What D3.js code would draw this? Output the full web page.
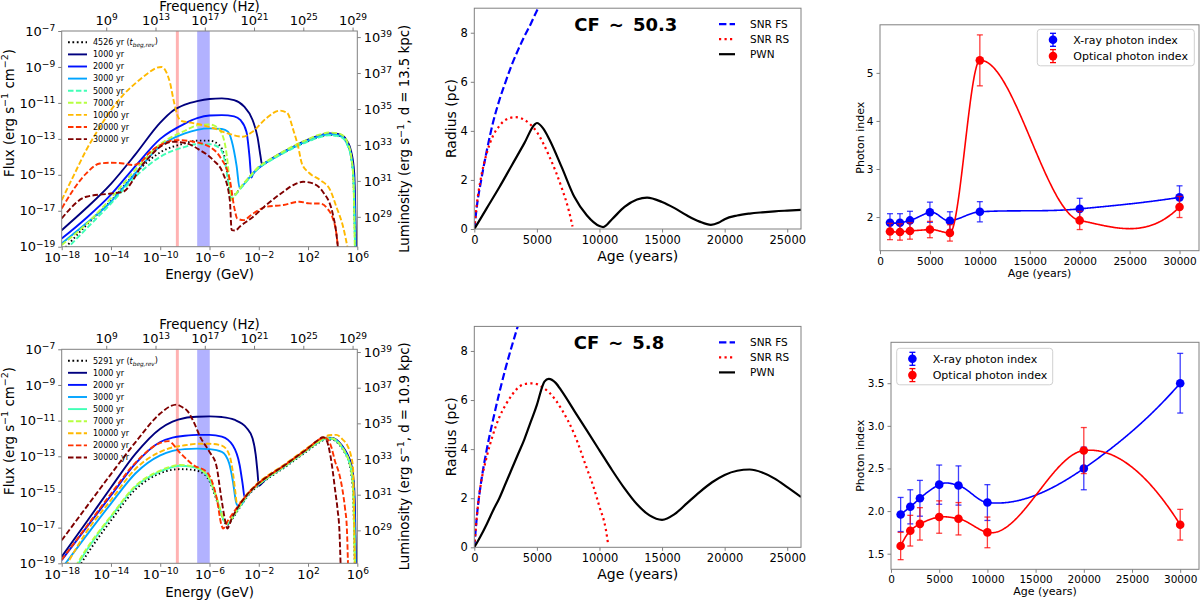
<!DOCTYPE html>
<html><head><meta charset="utf-8">
<script src="https://cdn.jsdelivr.net/npm/d3@7"></script>
<style>body{margin:0;background:#fff} svg{font-family:"DejaVu Sans",sans-serif}</style>
</head><body><svg id="c" width="1200" height="600"></svg>
<script>
// ---------------- DATA ----------------
// SED curves: [log10 E(GeV), log10 Flux]
const sedTop_4526=[[-17.9,-19.2],[-16,-17.8],[-14,-16.45],[-12,-14.9],[-10,-13.75],[-8,-13.25],[-7,-13.1],[-6,-13.1],[-5.2,-13.35],[-4.8,-13.95],[-4.5,-15.1],[-4.3,-16.1],[-4.0,-16.1],[-3.5,-15.74],[-3.0,-15.33],[-2.5,-14.93],[-2.0,-14.6],[-1.5,-14.35],[-1.0,-14.15],[0,-13.77],[1,-13.42],[2,-13.12],[3,-12.87],[3.7,-12.77],[4.3,-12.8],[4.8,-12.92],[5.2,-13.32],[5.5,-14.02],[5.68,-15.2],[5.83,-19.2]];
const sedTop_1000=[[-18,-18.08],[-16,-16.85],[-14,-15.5],[-12,-13.85],[-10,-12.1],[-9,-11.45],[-8,-11.1],[-7,-10.9],[-6,-10.78],[-5,-10.75],[-4,-10.85],[-3.2,-11.2],[-2.5,-11.95],[-2.1,-12.9],[-1.85,-14.0],[-1.75,-14.4],[-1.5,-14.35],[-1.0,-14.12],[0,-13.72],[1,-13.37],[2,-13.05],[3,-12.8],[3.7,-12.7],[4.3,-12.72],[4.8,-12.82],[5.2,-13.15],[5.5,-13.7],[5.75,-14.9],[5.9,-19.2]];
const sedTop_2000=[[-18,-18.55],[-16,-17.4],[-14,-16.1],[-12,-14.5],[-10,-13.0],[-8,-12.15],[-7,-11.85],[-6,-11.7],[-5,-11.68],[-4,-11.75],[-3.5,-11.95],[-3.0,-12.6],[-2.75,-14.0],[-2.6,-15.15],[-2.5,-15.0],[-2.0,-14.62],[-1.5,-14.37],[-1.0,-14.15],[0,-13.75],[1,-13.4],[2,-13.08],[3,-12.82],[3.7,-12.72],[4.3,-12.75],[4.8,-12.87],[5.2,-13.25],[5.5,-13.9],[5.72,-15.2],[5.87,-19.2]];
const sedTop_3000=[[-18,-18.82],[-16,-17.7],[-14,-16.5],[-12,-14.9],[-10,-13.4],[-8,-12.7],[-7,-12.5],[-6,-12.42],[-5,-12.45],[-4.5,-12.6],[-4.2,-13.1],[-3.8,-14.5],[-3.55,-15.75],[-3.3,-15.6],[-3.0,-15.35],[-2.5,-14.95],[-2.0,-14.6],[-1.5,-14.35],[-1.0,-14.15],[0,-13.75],[1,-13.4],[2,-13.1],[3,-12.85],[3.7,-12.75],[4.3,-12.78],[4.8,-12.9],[5.2,-13.3],[5.5,-14.0],[5.7,-15.2],[5.85,-19.2]];
const sedTop_5000=[[-17.7,-19.2],[-16,-18.0],[-14,-16.6],[-12,-15.1],[-10,-14.0],[-8,-13.45],[-7,-13.3],[-6,-13.3],[-5.2,-13.5],[-4.8,-14.1],[-4.5,-15.3],[-4.25,-16.3],[-4.0,-16.2],[-3.5,-15.78],[-3.0,-15.38],[-2.5,-14.98],[-2.0,-14.63],[-1.5,-14.38],[-1.0,-14.18],[0,-13.8],[1,-13.45],[2,-13.15],[3,-12.9],[3.7,-12.8],[4.3,-12.83],[4.8,-12.95],[5.2,-13.35],[5.5,-14.05],[5.68,-15.2],[5.82,-19.2]];
const sedTop_7000=[[-18,-18.9],[-16,-17.75],[-14,-16.3],[-12,-14.7],[-10,-13.3],[-8,-12.55],[-7,-12.25],[-6,-12.2],[-5.5,-12.3],[-5,-12.7],[-4.6,-13.9],[-4.35,-15.5],[-4.2,-16.4],[-4.0,-16.2],[-3.5,-15.72],[-3.0,-15.3],[-2.5,-14.9],[-2.0,-14.55],[-1.5,-14.3],[-1.0,-14.1],[0,-13.7],[1,-13.33],[2,-13.02],[3,-12.75],[3.7,-12.65],[4.3,-12.68],[4.8,-12.8],[5.2,-13.2],[5.5,-13.95],[5.68,-15.2],[5.8,-19.2]];
const sedTop_10000=[[-18,-16.41],[-17,-15.0],[-16,-13.62],[-15,-12.45],[-14,-11.4],[-13,-10.55],[-12,-9.9],[-11,-9.35],[-10.3,-9.05],[-9.9,-9.0],[-9.5,-9.3],[-9.2,-9.9],[-8.9,-10.9],[-8.6,-11.7],[-8.3,-12.0],[-7.5,-12.1],[-6.5,-12.25],[-5.5,-12.45],[-4.5,-12.7],[-3.3,-12.88],[-2.5,-12.6],[-1.4,-11.86],[-0.3,-11.43],[0.3,-11.55],[0.8,-12.5],[1.2,-13.44],[1.5,-14.37],[2.1,-14.9],[3.0,-15.3],[3.8,-15.85],[4.3,-16.78],[4.85,-17.9],[5.25,-19.2]];
const sedTop_20000=[[-18,-16.87],[-16,-14.92],[-14.9,-14.37],[-14,-14.33],[-13,-14.37],[-12.2,-14.46],[-11.6,-14.3],[-10.8,-13.72],[-10,-13.35],[-8.7,-13.07],[-7.3,-13.16],[-6,-13.44],[-5.15,-14.0],[-4.35,-15.29],[-3.95,-16.96],[-3.75,-17.43],[-3.25,-17.52],[-2.45,-17.15],[-1.4,-16.78],[0,-16.68],[1.3,-16.5],[2.1,-16.59],[3.0,-16.6],[3.6,-16.9],[4.0,-17.4],[4.3,-18.26],[4.45,-19.2]];
const sedTop_30000=[[-18,-17.43],[-16,-16.22],[-14,-16.04],[-13,-15.94],[-12.2,-15.29],[-11.65,-14.64],[-10.85,-13.99],[-10,-13.44],[-8.95,-13.16],[-7.85,-13.25],[-6.8,-13.62],[-5.7,-14.18],[-4.9,-14.92],[-4.35,-16.41],[-4.2,-18.08],[-3.9,-18.1],[-3.55,-17.89],[-2.45,-17.33],[-1.4,-16.68],[0,-15.94],[0.8,-15.57],[1.6,-15.39],[2.4,-15.48],[3.2,-15.94],[4.0,-17.15],[4.3,-18.26],[4.45,-19.2]];

const sedBot_5291=[[-16.6,-19.2],[-16,-18.55],[-14,-16.6],[-12,-14.85],[-10,-13.95],[-9,-13.75],[-8.4,-13.72],[-7.5,-13.75],[-6.8,-13.85],[-6,-14.4],[-5.4,-15.5],[-4.9,-16.5],[-4.6,-16.85],[-4,-16.35],[-3.5,-15.82],[-3,-15.32],[-2.5,-14.92],[-2.0,-14.62],[-1.5,-14.37],[-1,-14.12],[0,-13.67],[1,-13.17],[2,-12.67],[2.8,-12.27],[3.5,-12.05],[4.0,-12.07],[4.5,-12.32],[5.0,-12.82],[5.3,-13.27],[5.5,-13.95],[5.65,-15.0],[5.8,-19.2]];
const sedBot_1000=[[-18,-18.63],[-16,-16.7],[-14,-14.75],[-12,-12.85],[-10,-11.45],[-9,-11.05],[-8,-10.85],[-7,-10.78],[-6,-10.76],[-5,-10.8],[-4,-10.95],[-3,-11.4],[-2.5,-12.0],[-2.25,-12.9],[-2.1,-13.9],[-2.0,-14.65],[-1.5,-14.33],[-1,-14.03],[0,-13.58],[1,-13.08],[2,-12.58],[2.8,-12.18],[3.5,-11.95],[4.0,-11.97],[4.5,-12.2],[5.0,-12.65],[5.3,-13.05],[5.55,-13.6],[5.75,-14.8],[5.9,-19.2]];
const sedBot_2000=[[-18,-18.82],[-16,-17.0],[-14,-15.2],[-12,-13.4],[-10,-12.2],[-9,-11.95],[-8,-11.85],[-7,-11.8],[-6,-11.8],[-5,-11.9],[-4.1,-12.4],[-3.55,-13.5],[-3.3,-14.6],[-3.15,-15.3],[-3.0,-15.25],[-2.5,-14.85],[-2.0,-14.55],[-1.5,-14.3],[-1,-14.05],[0,-13.6],[1,-13.1],[2,-12.6],[2.8,-12.2],[3.5,-11.97],[4.0,-11.99],[4.5,-12.22],[5.0,-12.7],[5.3,-13.12],[5.55,-13.8],[5.72,-14.9],[5.88,-19.2]];
const sedBot_3000=[[-17.9,-19.2],[-16,-17.45],[-14,-15.65],[-12,-13.95],[-10,-12.95],[-9,-12.7],[-8,-12.6],[-7,-12.57],[-6,-12.6],[-5,-12.75],[-4.4,-13.4],[-4.1,-14.4],[-3.85,-15.55],[-3.75,-15.75],[-3.5,-15.75],[-3,-15.25],[-2.5,-14.85],[-2.0,-14.55],[-1.5,-14.3],[-1,-14.05],[0,-13.6],[1,-13.1],[2,-12.6],[2.8,-12.2],[3.5,-11.98],[4.0,-12.0],[4.5,-12.25],[5.0,-12.75],[5.3,-13.2],[5.55,-13.9],[5.7,-15.0],[5.85,-19.2]];
const sedBot_5000=[[-16.8,-19.2],[-16,-18.3],[-14,-16.4],[-12,-14.7],[-10,-13.85],[-9,-13.6],[-8.4,-13.53],[-7.5,-13.58],[-6.8,-13.72],[-6,-14.3],[-5.4,-15.4],[-4.9,-16.5],[-4.55,-16.8],[-4,-16.3],[-3.5,-15.77],[-3,-15.27],[-2.5,-14.87],[-2.0,-14.57],[-1.5,-14.32],[-1,-14.07],[0,-13.62],[1,-13.12],[2,-12.62],[2.8,-12.22],[3.5,-12.0],[4.0,-12.02],[4.5,-12.27],[5.0,-12.77],[5.3,-13.22],[5.55,-13.95],[5.68,-15.0],[5.82,-19.2]];
const sedBot_7000=[[-16.9,-19.2],[-16,-18.2],[-14,-16.35],[-12,-14.65],[-10,-13.8],[-9,-13.55],[-8.4,-13.48],[-7.5,-13.55],[-6.8,-13.7],[-6,-14.25],[-5.4,-15.35],[-4.9,-16.45],[-4.55,-16.75],[-4,-16.27],[-3.5,-15.75],[-3,-15.25],[-2.5,-14.85],[-2.0,-14.55],[-1.5,-14.3],[-1,-14.05],[0,-13.6],[1,-13.1],[2,-12.6],[2.8,-12.2],[3.5,-11.98],[4.0,-12.0],[4.5,-12.25],[5.0,-12.75],[5.3,-13.2],[5.55,-13.95],[5.66,-15.0],[5.8,-19.2]];
const sedBot_10000=[[-17.7,-19.2],[-16,-17.25],[-14,-15.45],[-12,-13.7],[-10,-12.75],[-9,-12.5],[-8,-12.38],[-7,-12.3],[-6,-12.3],[-5,-12.4],[-4.4,-12.9],[-4.1,-13.9],[-3.9,-15.0],[-3.8,-15.55],[-3.6,-15.6],[-3,-15.15],[-2,-14.45],[-1,-13.95],[0,-13.5],[1,-13.0],[2,-12.5],[3,-12.05],[3.7,-11.82],[4.3,-11.8],[4.8,-12.05],[5.2,-12.4],[5.5,-13.0],[5.65,-13.6],[5.8,-19.2]];
const sedBot_20000=[[-18,-18.8],[-16,-16.95],[-14,-15.1],[-12,-13.35],[-10,-12.25],[-9.35,-12.15],[-8.4,-12.8],[-7.3,-13.5],[-6.2,-13.9],[-5.8,-14.4],[-5.4,-15.4],[-5.05,-16.8],[-4.9,-17.05],[-4.5,-16.6],[-4,-16.1],[-3,-15.2],[-2,-14.5],[-1,-14.0],[0,-13.55],[1,-13.05],[2,-12.55],[2.8,-12.1],[3.3,-11.95],[3.6,-12.05],[3.9,-12.5],[4.2,-13.3],[4.5,-13.9],[4.8,-14.9],[5.0,-15.9],[5.15,-17.0],[5.25,-19.2]];
const sedBot_30000=[[-18,-17.71],[-16,-15.85],[-14,-14.0],[-12,-12.2],[-10,-10.6],[-9.2,-10.2],[-8.7,-10.1],[-8.2,-10.25],[-7.8,-10.45],[-7.2,-11.2],[-6.8,-11.85],[-6,-12.75],[-5.45,-13.5],[-5.05,-15.3],[-4.7,-16.7],[-4.55,-17.05],[-4.2,-16.5],[-3,-15.2],[-2,-14.5],[-1,-14.0],[0,-13.55],[1,-13.05],[2,-12.55],[2.8,-12.1],[3.2,-11.93],[3.5,-12.1],[3.8,-12.9],[4.0,-13.8],[4.2,-14.9],[4.4,-16.0],[4.55,-17.2],[4.65,-19.2]];

const sedAges=["1000 yr","2000 yr","3000 yr","5000 yr","7000 yr","10000 yr","20000 yr","30000 yr"];
const sedColors=["#00007f","#0012ff","#00a4ff","#41ffb6","#b6ff41","#ffb900","#ff3200","#7f0000"];
const bandOptical=[1.86e-9,3.24e-9];   // GeV
const bandXray=[1.0e-7,1.05e-6];      // GeV
const energyTicks=[1e-18,1e-14,1e-10,1e-6,1e-2,1e2,1e6];
const fluxTicks=[1e-19,1e-17,1e-15,1e-13,1e-11,1e-9,1e-7];
const freqTicks=[1e9,1e13,1e17,1e21,1e25,1e29];
const lumTicks=[1e29,1e31,1e33,1e35,1e37,1e39];

// Radius evolution: [age (yr), radius (pc)]
const fsTop=[[0,0],[250,1.1],[500,1.85],[1000,3.2],[1500,4.35],[2000,5.25],[2500,6.0],[3000,6.7],[3500,7.3],[4000,7.85],[4500,8.35],[5000,8.9],[5100,9.0]];
const rsTop=[[0,0],[200,1.0],[500,2.0],[1000,3.1],[1500,3.8],[2000,4.2],[2500,4.45],[3250,4.56],[4000,4.45],[4500,4.25],[5000,3.95],[5500,3.5],[6000,2.95],[6500,2.35],[7000,1.65],[7500,0.85],[7850,0.1]];
const pwnTop=[[0,0],[1000,0.85],[2000,1.7],[3000,2.6],[4000,3.5],[4800,4.25],[5000,4.32],[5500,4.1],[6000,3.65],[7000,2.5],[8000,1.3],[9000,0.55],[10000,0.12],[10300,0.08],[11000,0.4],[12000,0.9],[13000,1.2],[13800,1.28],[15000,1.1],[16000,0.85],[17000,0.55],[18000,0.3],[18900,0.17],[19500,0.25],[20000,0.4],[21000,0.55],[22000,0.63],[23000,0.68],[24000,0.72],[25000,0.75],[26100,0.78]];
const fsBot=[[0,0],[250,1.5],[500,2.5],[1000,4.0],[1500,5.2],[2000,6.3],[2500,7.3],[3000,8.2],[3470,9.0]];
const rsBot=[[0,0],[250,1.5],[500,2.5],[1000,3.7],[1500,4.6],[2000,5.3],[2500,5.8],[3000,6.2],[3500,6.5],[4000,6.65],[4600,6.68],[5000,6.65],[5500,6.5],[6000,6.3],[7000,5.6],[8000,4.6],[9000,3.2],[9500,2.5],[10000,1.65],[10500,0.75],[10700,0.1]];
const pwnBot=[[0,0],[500,0.45],[1000,0.95],[1500,1.5],[2000,2.0],[2500,2.6],[3000,3.2],[3500,3.8],[4000,4.4],[4500,5.1],[5000,5.8],[5400,6.5],[5600,6.75],[5950,6.86],[6500,6.7],[7000,6.35],[8000,5.55],[9000,4.75],[10000,3.95],[11000,3.15],[12000,2.4],[13000,1.75],[14000,1.3],[15000,1.12],[16000,1.35],[17000,1.8],[18000,2.25],[19000,2.65],[20000,2.95],[21000,3.12],[22000,3.17],[23000,3.05],[24000,2.8],[25000,2.45],[26100,2.05]];
const cfTop="50.3", cfBot="5.8";

// Photon index
const ages=[1000,2000,3000,5000,7000,10000,20000,30000];
const xrayTop=[1.88,1.88,1.93,2.10,1.92,2.11,2.17,2.41];
const xrayTopErr=[0.19,0.19,0.19,0.21,0.19,0.21,0.22,0.24];
const optTop=[1.70,1.69,1.71,1.74,1.67,5.26,1.93,2.21];
const optTopErr=[0.17,0.17,0.17,0.17,0.17,0.53,0.19,0.22];
const xrayBot=[1.96,2.05,2.15,2.31,2.30,2.10,2.50,3.50];
const xrayBotErr=[0.20,0.20,0.21,0.23,0.23,0.21,0.25,0.35];
const optBot=[1.59,1.77,1.85,1.93,1.91,1.75,2.71,1.84];
const optBotErr=[0.16,0.18,0.19,0.19,0.19,0.18,0.27,0.18];

// ---------------- DRAWING ----------------
const svg=d3.select('#c');
const hGeV=4.135667e-24, kpc=3.0857e21;
const AX='#808080';
let clipId=0;
function clip(x0,y0,x1,y1){const id='cl'+(clipId++);svg.append('clipPath').attr('id',id).append('rect').attr('x',x0).attr('y',y0).attr('width',x1-x0).attr('height',y1-y0);return 'url(#'+id+')';}
function styleAxis(g,fs){g.select('.domain').remove();g.selectAll('.tick line').attr('stroke',AX);g.selectAll('.tick text').attr('font-size',fs).attr('fill','#000').attr('font-family','DejaVu Sans');}
function supTicks(g){g.selectAll('.tick text').each(function(d){const e=Math.round(Math.log10(d));const t=d3.select(this);t.text('10');t.append('tspan').attr('dy','-0.5em').attr('font-size','0.7em').text(e<0?'\u2212'+(-e):String(e));});}
function rich(t,parts){parts.forEach(p=>{const s=t.append('tspan').text(p[0]);if(p[1]===1){s.attr('font-size','0.72em').attr('dy','-0.55em');}else if(p[1]===4){s.attr('dy','0.4em');}});}
function frame(x0,y0,x1,y1){svg.append('rect').attr('x',x0).attr('y',y0).attr('width',x1-x0).attr('height',y1-y0).attr('fill','none').attr('stroke',AX).attr('stroke-width',1);}
function ylabel(x,y,fs,parts){const t=svg.append('text').attr('transform',`translate(${x},${y}) rotate(-90)`).attr('text-anchor','middle').attr('dy','0.35em').attr('font-size',fs);rich(t,parts);return t;}
function label(x,y,fs,str,anchor){return svg.append('text').attr('x',x).attr('y',y).attr('text-anchor',anchor||'middle').attr('font-size',fs).text(str);}

function sedPanel(o){
  const x=d3.scaleLog().domain([1e-18,1e6]).range([o.x0,o.x1]);
  const y=d3.scaleLog().domain([1e-19,1e-7]).range([o.y1,o.y0]);
  const L=4*Math.PI*Math.pow(o.d*kpc,2);
  const xf=d3.scaleLog().domain([1e-18/hGeV,1e6/hGeV]).range([o.x0,o.x1]);
  const yl=d3.scaleLog().domain([1e-19*L,1e-7*L]).range([o.y1,o.y0]);
  const cp=clip(o.x0,o.y0,o.x1,o.y1);
  const g=svg.append('g').attr('clip-path',cp);
  g.append('rect').attr('x',x(bandOptical[0])).attr('width',x(bandOptical[1])-x(bandOptical[0])).attr('y',o.y0).attr('height',o.y1-o.y0).attr('fill','red').attr('opacity',0.3);
  g.append('rect').attr('x',x(bandXray[0])).attr('width',x(bandXray[1])-x(bandXray[0])).attr('y',o.y0).attr('height',o.y1-o.y0).attr('fill','blue').attr('opacity',0.3);
  const line=d3.line().x(d=>x(Math.pow(10,d[0]))).y(d=>y(Math.pow(10,d[1]))).curve(d3.curveMonotoneX);
  const styles=[{c:'#000',dash:'1.5,2.5'}].concat(sedColors.map((c,i)=>({c,dash:(i<3||(o.solid5&&i===3))?null:'5.5,2.4'})));
  o.series.forEach((s,i)=>{
    g.append('path').attr('d',line(s)).attr('fill','none').attr('stroke',styles[i].c).attr('stroke-width',1.9).attr('stroke-dasharray',styles[i].dash);
  });
  frame(o.x0,o.y0,o.x1,o.y1);
  const ab=svg.append('g').attr('transform',`translate(0,${o.y1})`).call(d3.axisBottom(x).tickValues(energyTicks).tickSize(3.5).tickPadding(3));
  styleAxis(ab,13);supTicks(ab);
  const al=svg.append('g').attr('transform',`translate(${o.x0},0)`).call(d3.axisLeft(y).tickValues(fluxTicks).tickSize(3.5).tickPadding(3));
  styleAxis(al,13);supTicks(al);
  const at=svg.append('g').attr('transform',`translate(0,${o.y0})`).call(d3.axisTop(xf).tickValues(freqTicks).tickSize(3.5).tickPadding(2.5));
  styleAxis(at,13);supTicks(at);
  const ar=svg.append('g').attr('transform',`translate(${o.x1},0)`).call(d3.axisRight(yl).tickValues(lumTicks).tickSize(3.5).tickPadding(3));
  styleAxis(ar,13);supTicks(ar);
  label((o.x0+o.x1)/2,o.elab,13.3,'Energy (GeV)');
  label((o.x0+o.x1)/2,o.flab,13.3,'Frequency (Hz)');
  ylabel(9,o.fluxY,13.3,[['Flux (erg s',0],['\u22121',1],[' cm',4],['\u22122',1],[')',4]]);
  ylabel(404.5,(o.y0+o.y1)/2,13.3,[['Luminosity (erg s',0],['\u22121',1],[', d = '+o.d+' kpc)',4]]);
  // legend
  const lg=svg.append('g');
  const names=[null].concat(sedAges);
  styles.forEach((st,i)=>{
    const yy=o.legY+i*12.1;
    lg.append('line').attr('x1',68).attr('x2',87).attr('y1',yy).attr('y2',yy).attr('stroke',st.c).attr('stroke-width',1.9).attr('stroke-dasharray',i===0?'1.8,2.6':st.dash);
    const t=lg.append('text').attr('x',93).attr('y',yy).attr('dy','0.35em').attr('font-size',8);
    if(i===0){t.append('tspan').text(o.tbeg+' yr (');t.append('tspan').attr('font-style','italic').text('t');t.append('tspan').attr('font-style','italic').attr('font-size','0.72em').attr('dy','0.35em').text('beg,rev');t.append('tspan').attr('dy','-0.35em').text(')');}
    else t.text(names[i]);
  });
}
sedPanel({x0:61.7,x1:357.3,y0:31,y1:246.7,d:13.5,tbeg:4526,series:[sedTop_4526,sedTop_1000,sedTop_2000,sedTop_3000,sedTop_5000,sedTop_7000,sedTop_10000,sedTop_20000,sedTop_30000],solid5:false,elab:278.5,flab:10.5,fluxY:113,legY:42.3});
sedPanel({x0:61.7,x1:357.3,y0:349.3,y1:563.3,d:10.9,tbeg:5291,series:[sedBot_5291,sedBot_1000,sedBot_2000,sedBot_3000,sedBot_5000,sedBot_7000,sedBot_10000,sedBot_20000,sedBot_30000],solid5:true,elab:596.5,flab:328.5,fluxY:431,legY:360.7});

function radiusPanel(o){
  const x=d3.scaleLinear().domain([0,26100]).range([474.3,801]);
  const y=d3.scaleLinear().domain([0,9]).range([o.y1,o.y0]);
  const cp=clip(474.3,o.y0,801,o.y1);
  const g=svg.append('g').attr('clip-path',cp);
  const line=d3.line().x(d=>x(d[0])).y(d=>y(d[1])).curve(d3.curveMonotoneX);
  g.append('path').attr('d',line(o.fs)).attr('fill','none').attr('stroke','#0000ff').attr('stroke-width',2.2).attr('stroke-dasharray','7.4,3.2');
  g.append('path').attr('d',line(o.rs)).attr('fill','none').attr('stroke','#ff0000').attr('stroke-width',2.2).attr('stroke-dasharray','2.2,3.3');
  g.append('path').attr('d',line(o.pwn)).attr('fill','none').attr('stroke','#000').attr('stroke-width',2.2);
  frame(474.3,o.y0,801,o.y1);
  const ab=svg.append('g').attr('transform',`translate(0,${o.y1})`).call(d3.axisBottom(x).tickValues([0,5000,10000,15000,20000,25000]).tickFormat(d3.format('d')).tickSize(3.5).tickPadding(3));
  styleAxis(ab,11.5);
  const al=svg.append('g').attr('transform',`translate(474.3,0)`).call(d3.axisLeft(y).tickValues([0,2,4,6,8]).tickSize(3.5).tickPadding(3));
  styleAxis(al,11.5);
  label(637.7,o.alab,14,'Age (years)');
  ylabel(451,(o.y0+o.y1)/2,14,[['Radius (pc)',0]]);
  label(o.cfx,o.cfy,18,'CF\u2002\u223C\u2002'+o.cf).attr('font-weight','bold');
  const items=[['SNR FS','#0000ff','7.4,3.2'],['SNR RS','#ff0000','2.2,3.3'],['PWN','#000',null]];
  items.forEach((it,i)=>{const yy=o.y0+16+i*15;
    svg.append('line').attr('x1',719).attr('x2',735).attr('y1',yy).attr('y2',yy).attr('stroke',it[1]).attr('stroke-width',2.2).attr('stroke-dasharray',it[2]);
    svg.append('text').attr('x',750).attr('y',yy).attr('dy','0.35em').attr('font-size',10.5).text(it[0]);});
}
radiusPanel({y0:8.2,y1:229,fs:fsTop,rs:rsTop,pwn:pwnTop,cf:cfTop,cfx:625.8,cfy:30.5,alab:260.5});
radiusPanel({y0:326.4,y1:547.3,fs:fsBot,rs:rsBot,pwn:pwnBot,cf:cfBot,cfx:619,cfy:349,alab:579});

// Akima interpolation used to draw the smooth line through the data points
function akima(xs,ys){
  const n=xs.length,m=new Array(n+3);
  for(let i=0;i<n-1;i++)m[i+2]=(ys[i+1]-ys[i])/(xs[i+1]-xs[i]);
  m[1]=2*m[2]-m[3];m[0]=2*m[1]-m[2];m[n+1]=2*m[n]-m[n-1];m[n+2]=2*m[n+1]-m[n];
  const t=[];
  for(let i=0;i<n;i++){const f1=Math.abs(m[i+3]-m[i+2]),f2=Math.abs(m[i+1]-m[i]);
    t.push(f1+f2>1e-12?(f1*m[i+1]+f2*m[i+2])/(f1+f2):0.5*(m[i+1]+m[i+2]));}
  return x=>{let i=0;while(i<n-2&&x>xs[i+1])i++;const h=xs[i+1]-xs[i],s=(x-xs[i])/h;
    const h00=2*s*s*s-3*s*s+1,h10=s*s*s-2*s*s+s,h01=-2*s*s*s+3*s*s,h11=s*s*s-s*s;
    return h00*ys[i]+h10*h*t[i]+h01*ys[i+1]+h11*h*t[i+1];};
}
function indexPanel(o){
  const x=d3.scaleLinear().domain([0,31950]).range([o.x0,1199]);
  const y=d3.scaleLinear().domain(o.yd).range([o.y1,o.y0]);
  const cp=clip(o.x0,o.y0,1199,o.y1);
  const g=svg.append('g').attr('clip-path',cp);
  const ln=d3.line().x(d=>x(d[0])).y(d=>y(d[1]));
  [[o.xr,'#0000ff'],[o.op,'#ff0000']].forEach(([v,c])=>{
    const f=akima(ages,v);const samp=d3.range(0,401).map(k=>{const tt=ages[0]+k*(ages[ages.length-1]-ages[0])/400;return [tt,f(tt)];});
    g.append('path').attr('d',ln(samp)).attr('fill','none').attr('stroke',c).attr('stroke-width',1.6);
  });
  [[o.xr,o.xre,'#0000ff'],[o.op,o.ope,'#ff0000']].forEach(([v,e,c])=>{
    ages.forEach((a,i)=>{const xx=x(a);
      g.append('line').attr('x1',xx).attr('x2',xx).attr('y1',y(v[i]-e[i])).attr('y2',y(v[i]+e[i])).attr('stroke',c).attr('stroke-width',1.3).attr('opacity',0.75);
      [v[i]-e[i],v[i]+e[i]].forEach(q=>g.append('line').attr('x1',xx-3).attr('x2',xx+3).attr('y1',y(q)).attr('y2',y(q)).attr('stroke',c).attr('stroke-width',1.3).attr('opacity',0.75));
      g.append('circle').attr('cx',xx).attr('cy',y(v[i])).attr('r',4.3).attr('fill',c);
    });
  });
  frame(o.x0,o.y0,1199,o.y1);
  const ab=svg.append('g').attr('transform',`translate(0,${o.y1})`).call(d3.axisBottom(x).tickValues([0,5000,10000,15000,20000,25000,30000]).tickFormat(d3.format('d')).tickSize(3.5).tickPadding(3));
  styleAxis(ab,10.5);
  const al=svg.append('g').attr('transform',`translate(${o.x0},0)`).call(d3.axisLeft(y).tickValues(o.yt).tickFormat(o.yf).tickSize(3.5).tickPadding(3));
  styleAxis(al,10.5);
  label((o.x0+1199)/2,o.alab,11,'Age (years)');
  ylabel(860.5,(o.y0+o.y1)/2,11,[['Photon index',0]]);
  const lg=svg.append('g');
  lg.append('rect').attr('x',o.lx).attr('y',o.ly).attr('width',o.lw).attr('height',36.5).attr('rx',3).attr('fill','#fff').attr('fill-opacity',0.8).attr('stroke','#d0d0d0');
  [['X-ray photon index','#0000ff'],['Optical photon index','#ff0000']].forEach((it,i)=>{
    const yy=o.ly+10.5+i*16.3, mx=o.lx+15.7;
    lg.append('line').attr('x1',mx).attr('x2',mx).attr('y1',yy-6.5).attr('y2',yy+6.5).attr('stroke',it[1]).attr('stroke-width',1.3);
    [yy-6.5,yy+6.5].forEach(q=>lg.append('line').attr('x1',mx-3).attr('x2',mx+3).attr('y1',q).attr('y2',q).attr('stroke',it[1]).attr('stroke-width',1.3));
    lg.append('circle').attr('cx',mx).attr('cy',yy).attr('r',4.3).attr('fill',it[1]);
    lg.append('text').attr('x',o.lx+36).attr('y',yy).attr('dy','0.35em').attr('font-size',11).text(it[0]);
  });
}
indexPanel({x0:880,y0:24.8,y1:250.7,yd:[1.30,6.0],yt:[2,3,4,5],yf:d3.format('d'),xr:xrayTop,xre:xrayTopErr,op:optTop,ope:optTopErr,alab:277.3,lx:1037.3,ly:29.3,lw:157});
indexPanel({x0:891,y0:342.3,y1:569.3,yd:[1.317,3.98],yt:[1.5,2,2.5,3,3.5],yf:d3.format('.1f'),xr:xrayBot,xre:xrayBotErr,op:optBot,ope:optBotErr,alab:595.3,lx:896.7,ly:348.3,lw:156});
</script></body></html>
